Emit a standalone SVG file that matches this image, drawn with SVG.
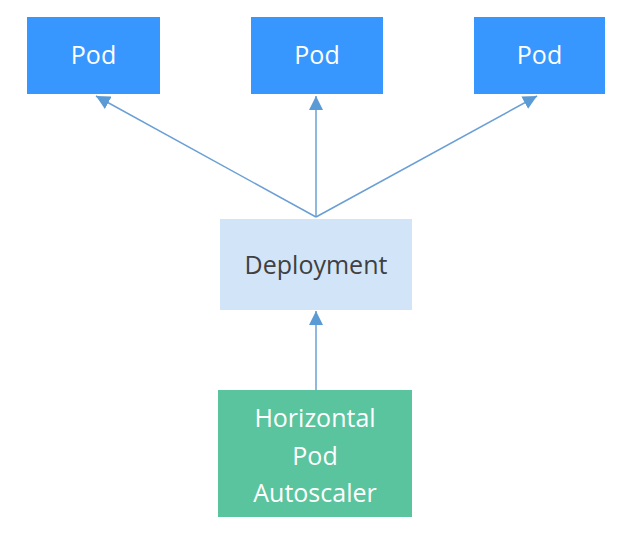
<svg xmlns="http://www.w3.org/2000/svg" width="629" height="539" viewBox="0 0 629 539">
<style>
.pod{fill:#3797FF}
.t{font-family:"Open Sans","Noto Sans",sans-serif;font-size:25px;text-anchor:middle}
.w{fill:#FFFFFF}
.c{stroke:#6A9FD6;stroke-width:1.5;fill:none}
</style>
<defs>
<marker id="a" markerWidth="14" markerHeight="14" refX="12" refY="6" orient="auto" markerUnits="userSpaceOnUse" viewBox="0 0 12 12">
<path d="M0,0 L12,6 L0,12 z" fill="#5B9BD5"/>
</marker>
</defs>
<rect width="629" height="539" fill="#FFFFFF"/>
<g id="connectors">
<line class="c" x1="316" y1="217" x2="96" y2="96" marker-end="url(#a)"/>
<line class="c" x1="316" y1="217" x2="316" y2="96" marker-end="url(#a)"/>
<line class="c" x1="316" y1="217" x2="537" y2="96" marker-end="url(#a)"/>
<line class="c" x1="316" y1="390" x2="316" y2="311" marker-end="url(#a)"/>
</g>
<g id="pod1"><rect class="pod" x="27" y="17" width="133" height="77"/><text class="t w" x="93.5" y="64">Pod</text></g>
<g id="pod2"><rect class="pod" x="251" y="17" width="132" height="77"/><text class="t w" x="317" y="64">Pod</text></g>
<g id="pod3"><rect class="pod" x="474" y="17" width="131" height="77"/><text class="t w" x="539.5" y="64">Pod</text></g>
<g id="deployment"><rect x="220" y="219" width="192" height="91" fill="#D2E5F8"/><text class="t" x="316" y="274" fill="#404040">Deployment</text></g>
<g id="hpa"><rect x="218" y="390" width="194" height="127" fill="#5AC49E"/>
<text class="t w" x="315" y="427">Horizontal</text>
<text class="t w" x="315" y="465">Pod</text>
<text class="t w" x="315" y="502">Autoscaler</text></g>
</svg>
